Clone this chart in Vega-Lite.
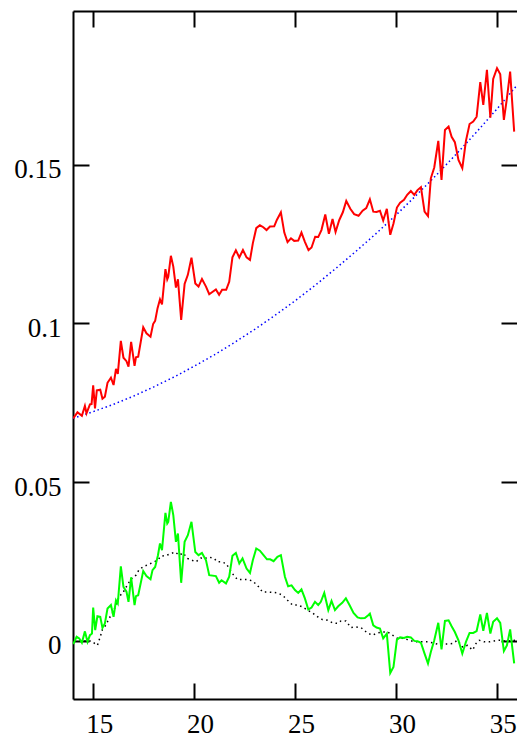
{
  "$schema": "https://vega.github.io/schema/vega-lite/v6.json",
  "width": 444,
  "height": 688,
  "autosize": {"type": "none"},
  "padding": {"left": 73, "top": 11, "right": 0, "bottom": 43},
  "background": "white",
  "config": {
    "view": {"stroke": null},
    "axis": {
      "grid": false,
      "domainColor": "black",
      "domainWidth": 2,
      "tickColor": "black",
      "tickWidth": 2,
      "tickSize": -16,
      "labelFont": "Liberation Serif",
      "labelFontSize": 27,
      "labelColor": "black",
      "title": null
    }
  },
  "datasets": {
    "red": [
      {"x": 14.01, "y": 0.0701}, {"x": 14.22, "y": 0.0720}, {"x": 14.44, "y": 0.0709}, {"x": 14.59, "y": 0.0740},
      {"x": 14.67, "y": 0.0717}, {"x": 14.84, "y": 0.0745}, {"x": 14.92, "y": 0.0746}, {"x": 15.00, "y": 0.0805},
      {"x": 15.09, "y": 0.0732}, {"x": 15.18, "y": 0.0789}, {"x": 15.35, "y": 0.0791}, {"x": 15.46, "y": 0.0763},
      {"x": 15.58, "y": 0.0769}, {"x": 15.71, "y": 0.0813}, {"x": 15.88, "y": 0.0829}, {"x": 16.01, "y": 0.0806},
      {"x": 16.13, "y": 0.0857}, {"x": 16.22, "y": 0.0841}, {"x": 16.37, "y": 0.0945}, {"x": 16.50, "y": 0.0892},
      {"x": 16.65, "y": 0.0881}, {"x": 16.75, "y": 0.0864}, {"x": 16.88, "y": 0.0942}, {"x": 17.05, "y": 0.0866},
      {"x": 17.12, "y": 0.0893}, {"x": 17.23, "y": 0.0895}, {"x": 17.48, "y": 0.0988}, {"x": 17.64, "y": 0.0969},
      {"x": 17.84, "y": 0.0958}, {"x": 17.97, "y": 0.0998}, {"x": 18.07, "y": 0.1008}, {"x": 18.19, "y": 0.1048},
      {"x": 18.31, "y": 0.1076}, {"x": 18.41, "y": 0.1060}, {"x": 18.58, "y": 0.1171}, {"x": 18.67, "y": 0.1139},
      {"x": 18.72, "y": 0.1147}, {"x": 18.85, "y": 0.1213}, {"x": 18.97, "y": 0.1179}, {"x": 19.10, "y": 0.1113},
      {"x": 19.20, "y": 0.1139}, {"x": 19.36, "y": 0.1011}, {"x": 19.53, "y": 0.1124}, {"x": 19.69, "y": 0.1153},
      {"x": 19.87, "y": 0.1207}, {"x": 20.06, "y": 0.1126}, {"x": 20.22, "y": 0.1116}, {"x": 20.39, "y": 0.1140},
      {"x": 20.59, "y": 0.1116}, {"x": 20.75, "y": 0.1092}, {"x": 21.08, "y": 0.1107}, {"x": 21.24, "y": 0.1090},
      {"x": 21.39, "y": 0.1106}, {"x": 21.59, "y": 0.1106}, {"x": 21.74, "y": 0.1131}, {"x": 21.90, "y": 0.1208},
      {"x": 22.07, "y": 0.1230}, {"x": 22.24, "y": 0.1208}, {"x": 22.42, "y": 0.1231}, {"x": 22.60, "y": 0.1208},
      {"x": 22.77, "y": 0.1200}, {"x": 22.91, "y": 0.1252}, {"x": 23.08, "y": 0.1300}, {"x": 23.26, "y": 0.1309},
      {"x": 23.43, "y": 0.1303}, {"x": 23.59, "y": 0.1294}, {"x": 23.76, "y": 0.1305}, {"x": 23.97, "y": 0.1306},
      {"x": 24.10, "y": 0.1326}, {"x": 24.30, "y": 0.1350}, {"x": 24.47, "y": 0.1286}, {"x": 24.63, "y": 0.1256},
      {"x": 24.80, "y": 0.1268}, {"x": 24.96, "y": 0.1260}, {"x": 25.16, "y": 0.1261}, {"x": 25.32, "y": 0.1286},
      {"x": 25.49, "y": 0.1257}, {"x": 25.67, "y": 0.1231}, {"x": 25.82, "y": 0.1239}, {"x": 26.00, "y": 0.1273},
      {"x": 26.15, "y": 0.1272}, {"x": 26.31, "y": 0.1294}, {"x": 26.50, "y": 0.1343}, {"x": 26.68, "y": 0.1282},
      {"x": 26.86, "y": 0.1329}, {"x": 27.01, "y": 0.1288}, {"x": 27.19, "y": 0.1325}, {"x": 27.37, "y": 0.1350},
      {"x": 27.54, "y": 0.1386}, {"x": 27.74, "y": 0.1361}, {"x": 27.93, "y": 0.1344}, {"x": 28.15, "y": 0.1339},
      {"x": 28.35, "y": 0.1355}, {"x": 28.53, "y": 0.1363}, {"x": 28.71, "y": 0.1391}, {"x": 28.88, "y": 0.1352},
      {"x": 29.04, "y": 0.1351}, {"x": 29.21, "y": 0.1355}, {"x": 29.37, "y": 0.1324}, {"x": 29.55, "y": 0.1361},
      {"x": 29.72, "y": 0.1279}, {"x": 29.88, "y": 0.1315}, {"x": 30.05, "y": 0.1365}, {"x": 30.21, "y": 0.1380},
      {"x": 30.40, "y": 0.1389}, {"x": 30.56, "y": 0.1405}, {"x": 30.74, "y": 0.1417}, {"x": 30.91, "y": 0.1405},
      {"x": 31.07, "y": 0.1420}, {"x": 31.24, "y": 0.1429}, {"x": 31.42, "y": 0.1352}, {"x": 31.59, "y": 0.1338},
      {"x": 31.73, "y": 0.1457}, {"x": 31.90, "y": 0.1491}, {"x": 32.10, "y": 0.1575}, {"x": 32.26, "y": 0.1452},
      {"x": 32.43, "y": 0.1609}, {"x": 32.61, "y": 0.1620}, {"x": 32.76, "y": 0.1588}, {"x": 32.92, "y": 0.1571},
      {"x": 33.10, "y": 0.1515}, {"x": 33.29, "y": 0.1489}, {"x": 33.47, "y": 0.1575}, {"x": 33.65, "y": 0.1628},
      {"x": 33.83, "y": 0.1636}, {"x": 34.00, "y": 0.1651}, {"x": 34.18, "y": 0.1760}, {"x": 34.33, "y": 0.1688},
      {"x": 34.51, "y": 0.1799}, {"x": 34.68, "y": 0.1648}, {"x": 34.82, "y": 0.1770}, {"x": 35.01, "y": 0.1804},
      {"x": 35.17, "y": 0.1785}, {"x": 35.35, "y": 0.1641}, {"x": 35.50, "y": 0.1709}, {"x": 35.66, "y": 0.1793},
      {"x": 35.86, "y": 0.1604}
    ],
    "green": [
      {"x": 14.01, "y": -0.0010}, {"x": 14.18, "y": 0.0013}, {"x": 14.31, "y": 0.0008}, {"x": 14.44, "y": -0.0006},
      {"x": 14.59, "y": 0.0030}, {"x": 14.72, "y": -0.0003}, {"x": 14.84, "y": 0.0018}, {"x": 14.94, "y": 0.0023},
      {"x": 15.00, "y": 0.0105}, {"x": 15.10, "y": 0.0034}, {"x": 15.21, "y": 0.0078}, {"x": 15.35, "y": 0.0076},
      {"x": 15.46, "y": 0.0041}, {"x": 15.58, "y": 0.0055}, {"x": 15.71, "y": 0.0102}, {"x": 15.88, "y": 0.0113},
      {"x": 16.01, "y": 0.0076}, {"x": 16.13, "y": 0.0128}, {"x": 16.22, "y": 0.0118}, {"x": 16.37, "y": 0.0235},
      {"x": 16.50, "y": 0.0170}, {"x": 16.65, "y": 0.0155}, {"x": 16.75, "y": 0.0123}, {"x": 16.88, "y": 0.0200},
      {"x": 17.05, "y": 0.0113}, {"x": 17.12, "y": 0.0141}, {"x": 17.23, "y": 0.0144}, {"x": 17.48, "y": 0.0220},
      {"x": 17.64, "y": 0.0204}, {"x": 17.84, "y": 0.0194}, {"x": 17.94, "y": 0.0223}, {"x": 18.07, "y": 0.0233},
      {"x": 18.21, "y": 0.0270}, {"x": 18.31, "y": 0.0307}, {"x": 18.41, "y": 0.0286}, {"x": 18.58, "y": 0.0403},
      {"x": 18.67, "y": 0.0370}, {"x": 18.72, "y": 0.0375}, {"x": 18.85, "y": 0.0438}, {"x": 18.97, "y": 0.0396},
      {"x": 19.10, "y": 0.0312}, {"x": 19.20, "y": 0.0338}, {"x": 19.36, "y": 0.0183}, {"x": 19.53, "y": 0.0312},
      {"x": 19.69, "y": 0.0333}, {"x": 19.87, "y": 0.0375}, {"x": 20.06, "y": 0.0280}, {"x": 20.22, "y": 0.0270},
      {"x": 20.39, "y": 0.0277}, {"x": 20.59, "y": 0.0254}, {"x": 20.75, "y": 0.0207}, {"x": 21.08, "y": 0.0204},
      {"x": 21.24, "y": 0.0183}, {"x": 21.36, "y": 0.0191}, {"x": 21.58, "y": 0.0181}, {"x": 21.74, "y": 0.0202},
      {"x": 21.90, "y": 0.0268}, {"x": 22.07, "y": 0.0277}, {"x": 22.24, "y": 0.0244}, {"x": 22.40, "y": 0.0260},
      {"x": 22.60, "y": 0.0228}, {"x": 22.77, "y": 0.0214}, {"x": 22.91, "y": 0.0254}, {"x": 23.08, "y": 0.0291},
      {"x": 23.26, "y": 0.0284}, {"x": 23.44, "y": 0.0270}, {"x": 23.61, "y": 0.0257}, {"x": 23.77, "y": 0.0257},
      {"x": 23.94, "y": 0.0251}, {"x": 24.13, "y": 0.0265}, {"x": 24.30, "y": 0.0270}, {"x": 24.50, "y": 0.0202},
      {"x": 24.66, "y": 0.0172}, {"x": 24.83, "y": 0.0175}, {"x": 25.00, "y": 0.0160}, {"x": 25.16, "y": 0.0151},
      {"x": 25.32, "y": 0.0162}, {"x": 25.49, "y": 0.0134}, {"x": 25.66, "y": 0.0099}, {"x": 25.82, "y": 0.0105},
      {"x": 25.99, "y": 0.0123}, {"x": 26.15, "y": 0.0113}, {"x": 26.28, "y": 0.0123}, {"x": 26.45, "y": 0.0151},
      {"x": 26.65, "y": 0.0097}, {"x": 26.81, "y": 0.0126}, {"x": 26.98, "y": 0.0097}, {"x": 27.14, "y": 0.0109},
      {"x": 27.34, "y": 0.0120}, {"x": 27.52, "y": 0.0134}, {"x": 27.70, "y": 0.0113}, {"x": 27.90, "y": 0.0088},
      {"x": 28.10, "y": 0.0074}, {"x": 28.27, "y": 0.0071}, {"x": 28.46, "y": 0.0072}, {"x": 28.63, "y": 0.0081},
      {"x": 28.71, "y": 0.0086}, {"x": 28.88, "y": 0.0049}, {"x": 29.04, "y": 0.0042}, {"x": 29.21, "y": 0.0039},
      {"x": 29.37, "y": 0.0008}, {"x": 29.55, "y": 0.0023}, {"x": 29.72, "y": -0.0101}, {"x": 29.88, "y": -0.0082},
      {"x": 30.05, "y": 0.0004}, {"x": 30.21, "y": 0.0011}, {"x": 30.40, "y": 0.0009}, {"x": 30.56, "y": 0.0013},
      {"x": 30.74, "y": 0.0011}, {"x": 30.91, "y": 0.0000}, {"x": 31.07, "y": -0.0001}, {"x": 31.24, "y": -0.0006},
      {"x": 31.42, "y": -0.0040}, {"x": 31.59, "y": -0.0071}, {"x": 31.73, "y": -0.0035}, {"x": 31.90, "y": 0.0002},
      {"x": 32.10, "y": 0.0057}, {"x": 32.26, "y": -0.0027}, {"x": 32.43, "y": 0.0063}, {"x": 32.61, "y": 0.0065},
      {"x": 32.76, "y": 0.0046}, {"x": 32.92, "y": 0.0028}, {"x": 33.10, "y": 0.0002}, {"x": 33.29, "y": -0.0040},
      {"x": 33.47, "y": -0.0003}, {"x": 33.65, "y": 0.0025}, {"x": 33.83, "y": 0.0025}, {"x": 34.00, "y": 0.0031},
      {"x": 34.18, "y": 0.0083}, {"x": 34.33, "y": 0.0032}, {"x": 34.51, "y": 0.0088}, {"x": 34.68, "y": 0.0023},
      {"x": 34.82, "y": 0.0060}, {"x": 35.01, "y": 0.0071}, {"x": 35.17, "y": 0.0057}, {"x": 35.35, "y": -0.0032},
      {"x": 35.50, "y": -0.0014}, {"x": 35.66, "y": 0.0036}, {"x": 35.86, "y": -0.0071}
    ],
    "blue": [
      {"x": 14, "y": 0.0701}, {"x": 15, "y": 0.0722}, {"x": 16, "y": 0.0745}, {"x": 17, "y": 0.0771},
      {"x": 18, "y": 0.0800}, {"x": 19, "y": 0.0831}, {"x": 20, "y": 0.0865}, {"x": 21, "y": 0.0901},
      {"x": 22, "y": 0.0940}, {"x": 23, "y": 0.0981}, {"x": 24, "y": 0.1025}, {"x": 25, "y": 0.1071},
      {"x": 26, "y": 0.1120}, {"x": 27, "y": 0.1172}, {"x": 28, "y": 0.1226}, {"x": 29, "y": 0.1282},
      {"x": 30, "y": 0.1341}, {"x": 31, "y": 0.1403}, {"x": 32, "y": 0.1467}, {"x": 33, "y": 0.1534},
      {"x": 34, "y": 0.1603}, {"x": 35, "y": 0.1675}, {"x": 36, "y": 0.1750}
    ],
    "black": [
      {"x": 14.06, "y": 0.0000}, {"x": 14.31, "y": 0.0000}, {"x": 14.64, "y": 0.0000}, {"x": 14.89, "y": 0.0000},
      {"x": 15.21, "y": -0.0014}, {"x": 15.35, "y": 0.0013}, {"x": 15.46, "y": 0.0036}, {"x": 15.63, "y": 0.0050},
      {"x": 15.79, "y": 0.0071}, {"x": 15.96, "y": 0.0088}, {"x": 16.13, "y": 0.0112}, {"x": 16.29, "y": 0.0141},
      {"x": 16.45, "y": 0.0149}, {"x": 16.62, "y": 0.0168}, {"x": 16.79, "y": 0.0186}, {"x": 16.95, "y": 0.0200},
      {"x": 17.12, "y": 0.0207}, {"x": 17.28, "y": 0.0225}, {"x": 17.53, "y": 0.0235}, {"x": 17.78, "y": 0.0242},
      {"x": 18.02, "y": 0.0249}, {"x": 18.19, "y": 0.0254}, {"x": 18.36, "y": 0.0267}, {"x": 18.60, "y": 0.0269},
      {"x": 18.85, "y": 0.0275}, {"x": 19.06, "y": 0.0280}, {"x": 19.26, "y": 0.0270}, {"x": 19.46, "y": 0.0277},
      {"x": 19.67, "y": 0.0260}, {"x": 19.89, "y": 0.0254}, {"x": 20.09, "y": 0.0249}, {"x": 20.34, "y": 0.0261},
      {"x": 20.50, "y": 0.0259}, {"x": 20.75, "y": 0.0264}, {"x": 21.00, "y": 0.0259}, {"x": 21.16, "y": 0.0249},
      {"x": 21.33, "y": 0.0249}, {"x": 21.58, "y": 0.0244}, {"x": 21.74, "y": 0.0228}, {"x": 21.90, "y": 0.0212},
      {"x": 22.15, "y": 0.0193}, {"x": 22.40, "y": 0.0193}, {"x": 22.65, "y": 0.0193}, {"x": 22.89, "y": 0.0189},
      {"x": 23.14, "y": 0.0175}, {"x": 23.39, "y": 0.0154}, {"x": 23.64, "y": 0.0154}, {"x": 23.89, "y": 0.0153},
      {"x": 24.13, "y": 0.0151}, {"x": 24.38, "y": 0.0144}, {"x": 24.63, "y": 0.0128}, {"x": 24.88, "y": 0.0113},
      {"x": 25.13, "y": 0.0113}, {"x": 25.37, "y": 0.0107}, {"x": 25.62, "y": 0.0097}, {"x": 25.87, "y": 0.0088},
      {"x": 26.12, "y": 0.0076}, {"x": 26.36, "y": 0.0067}, {"x": 26.61, "y": 0.0065}, {"x": 26.86, "y": 0.0057},
      {"x": 27.11, "y": 0.0055}, {"x": 27.28, "y": 0.0063}, {"x": 27.52, "y": 0.0063}, {"x": 27.77, "y": 0.0042},
      {"x": 28.02, "y": 0.0044}, {"x": 28.27, "y": 0.0042}, {"x": 28.59, "y": 0.0025}, {"x": 28.84, "y": 0.0018},
      {"x": 29.09, "y": 0.0025}, {"x": 29.34, "y": 0.0028}, {"x": 29.59, "y": 0.0028}, {"x": 29.83, "y": 0.0018},
      {"x": 30.08, "y": 0.0008}, {"x": 30.33, "y": 0.0008}, {"x": 30.58, "y": 0.0004}, {"x": 30.83, "y": -0.0001},
      {"x": 31.07, "y": -0.0003}, {"x": 31.32, "y": -0.0003}, {"x": 31.57, "y": -0.0003}, {"x": 31.81, "y": -0.0006},
      {"x": 32.06, "y": -0.0010}, {"x": 32.31, "y": -0.0010}, {"x": 32.56, "y": -0.0010}, {"x": 32.81, "y": -0.0008},
      {"x": 33.05, "y": 0.0002}, {"x": 33.30, "y": -0.0019}, {"x": 33.55, "y": -0.0014}, {"x": 33.80, "y": -0.0029},
      {"x": 33.97, "y": -0.0008}, {"x": 34.13, "y": 0.0002}, {"x": 34.38, "y": -0.0003}, {"x": 34.62, "y": -0.0003},
      {"x": 34.87, "y": 0.0000}, {"x": 35.12, "y": 0.0002}, {"x": 35.37, "y": 0.0000}, {"x": 35.62, "y": 0.0000},
      {"x": 35.95, "y": 0.0002}
    ]
  },
  "layer": [
    {
      "data": {"name": "blue"},
      "mark": {"type": "line", "color": "#0000ff", "strokeWidth": 1.5, "strokeDash": [1.5, 2.8], "clip": true},
      "encoding": {
        "x": {"field": "x", "type": "quantitative", "scale": {"domain": [14, 36], "nice": false, "zero": false},
              "axis": {"orient": "bottom", "values": [15, 20, 25, 30, 35], "labelPadding": 28, "labelOffset": 6}},
        "y": {"field": "y", "type": "quantitative", "scale": {"domain": [-0.0183, 0.1984], "nice": false, "zero": false},
              "axis": {"orient": "left", "values": [0, 0.05, 0.1, 0.15], "format": "~g", "labelPadding": 28, "labelOffset": 5}}
      }
    },
    {
      "data": {"name": "black"},
      "mark": {"type": "line", "color": "#000000", "strokeWidth": 1.5, "strokeDash": [1.5, 3.5], "clip": true},
      "encoding": {
        "x": {"field": "x", "type": "quantitative",
              "axis": {"orient": "top", "values": [15, 20, 25, 30, 35], "labels": false}},
        "y": {"field": "y", "type": "quantitative",
              "axis": {"orient": "right", "values": [0, 0.05, 0.1, 0.15], "labels": false, "domain": false}}
      }
    },
    {
      "data": {"name": "red"},
      "mark": {"type": "line", "color": "#ff0000", "strokeWidth": 2, "clip": true},
      "encoding": {
        "x": {"field": "x", "type": "quantitative", "axis": null},
        "y": {"field": "y", "type": "quantitative", "axis": null}
      }
    },
    {
      "data": {"name": "green"},
      "mark": {"type": "line", "color": "#00ff00", "strokeWidth": 2, "clip": true},
      "encoding": {
        "x": {"field": "x", "type": "quantitative", "axis": null},
        "y": {"field": "y", "type": "quantitative", "axis": null}
      }
    }
  ],
  "resolve": {"axis": {"x": "independent", "y": "independent"}}
}
